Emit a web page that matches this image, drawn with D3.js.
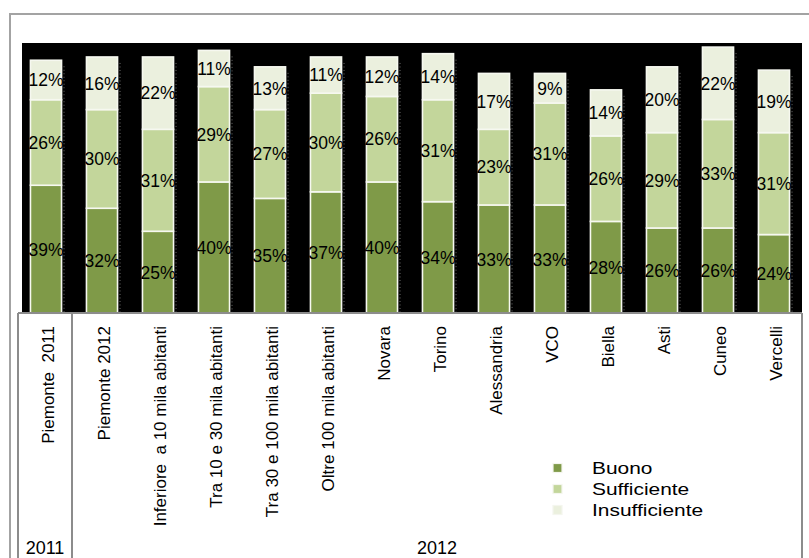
<!DOCTYPE html>
<html>
<head>
<meta charset="utf-8">
<script src="https://cdn.jsdelivr.net/npm/d3@7"></script>
<style>
  html, body { margin: 0; padding: 0; background: #ffffff; }
  svg { display: block; font-family: "Liberation Sans", Arial, sans-serif; }
  text { white-space: pre; }
</style>
</head>
<body>
<svg id="chart" width="809" height="558"></svg>
<script>
// Giudizio sui servizi: quote per territorio
const categories = [
  "Piemonte  2011", "Piemonte 2012", "Inferiore  a 10 mila abitanti",
  "Tra 10 e 30 mila abitanti", "Tra 30 e 100 mila abitanti",
  "Oltre 100 mila abitanti", "Novara", "Torino", "Alessandria",
  "VCO", "Biella", "Asti", "Cuneo", "Vercelli"
];
const buono         = [39, 32, 25, 40, 35, 37, 40, 34, 33, 33, 28, 26, 26, 24];
const sufficiente   = [26, 30, 31, 29, 27, 30, 26, 31, 23, 31, 26, 29, 33, 31];
const insufficiente = [12, 16, 22, 11, 13, 11, 12, 14, 17,  9, 14, 20, 22, 19];
const seriesNames = ["Buono", "Sufficiente", "Insufficiente"];
const years = ["2011", "2012"];
const yearOfCategory = ["2011", "2012", "2012", "2012", "2012", "2012", "2012",
                        "2012", "2012", "2012", "2012", "2012", "2012", "2012"];

const colors = { Buono: "#7f9a48", Sufficiente: "#c3d69b", Insufficiente: "#ebf0de" };

const rows = categories.map((c, i) => ({
  cat: c, Buono: buono[i], Sufficiente: sufficiente[i], Insufficiente: insufficiente[i]
}));
const stacked = d3.stack().keys(seriesNames)(rows);

const svg = d3.select("#chart");

// Layout
const plot = { left: 18, right: 802, top: 43, bottom: 313.5 };
const x = d3.scaleBand().domain(categories).range([plot.left, plot.right]).paddingInner(0.445).paddingOuter(0.2225);
const y = d3.scaleLinear().domain([0, 82.4]).range([plot.bottom, plot.top - 0.5]);

// Outer frame
svg.append("rect")
  .attr("x", 10).attr("y", 14).attr("width", 820).attr("height", 560)
  .attr("fill", "none").attr("stroke", "#a3a3a3").attr("stroke-width", 2);

// Plot background
svg.append("rect")
  .attr("x", 22).attr("y", plot.top)
  .attr("width", plot.right - 22).attr("height", plot.bottom - plot.top)
  .attr("fill", "#000000");

// Dotted guide beside each bar
svg.append("g").selectAll("line")
  .data(rows)
  .join("line")
  .attr("x1", d => x(d.cat) + x.bandwidth() + 2.5)
  .attr("x2", d => x(d.cat) + x.bandwidth() + 2.5)
  .attr("y1", d => y(d.Buono + d.Sufficiente + d.Insufficiente) + 6)
  .attr("y2", plot.bottom)
  .attr("stroke", "#6a6a6a").attr("stroke-width", 1)
  .attr("stroke-dasharray", "1,2.5");

// Stacked bars
const layers = svg.append("g").selectAll("g")
  .data(stacked)
  .join("g")
  .attr("fill", d => colors[d.key]);

layers.selectAll("rect")
  .data(d => d)
  .join("rect")
  .attr("x", d => x(d.data.cat))
  .attr("y", d => y(d[1]))
  .attr("width", x.bandwidth())
  .attr("height", d => y(d[0]) - y(d[1]))
  .attr("stroke", "#f6f8f0").attr("stroke-width", 1.6);

// Value labels
const labels = svg.append("g")
  .attr("font-size", 17.5).attr("fill", "#000").attr("text-anchor", "middle");
stacked.forEach(layer => {
  labels.selectAll(null)
    .data(layer)
    .join("text")
    .attr("x", d => x(d.data.cat) + x.bandwidth() / 2)
    .attr("y", d => (y(d[0]) + y(d[1])) / 2)
    .attr("dy", "0.36em")
    .text(d => (d[1] - d[0]) + "%");
});

// Category table
const tableTop = 313;
const grid = svg.append("g").attr("stroke", "#8c8c8c").attr("stroke-width", 2).attr("fill", "none");
grid.append("line").attr("x1", plot.left).attr("x2", plot.right).attr("y1", tableTop).attr("y2", tableTop);
grid.append("line").attr("x1", plot.left).attr("x2", plot.left).attr("y1", tableTop).attr("y2", 570);
grid.append("line").attr("x1", plot.right).attr("x2", plot.right).attr("y1", tableTop).attr("y2", 570);
const step = x.step();
const groupBounds = years.map(yr => {
  const idx = categories.map((c, i) => i).filter(i => yearOfCategory[i] === yr);
  const first = categories[idx[0]], last = categories[idx[idx.length - 1]];
  return {
    year: yr,
    x0: x(first) - x.paddingInner() * step / 2 - (idx[0] === 0 ? x.paddingOuter() * step - x.paddingInner() * step / 2 : 0),
    x1: x(last) + x.bandwidth() + x.paddingInner() * step / 2
  };
});
groupBounds.slice(1).forEach(g => {
  grid.append("line").attr("x1", g.x0 - 2).attr("x2", g.x0 - 2).attr("y1", tableTop).attr("y2", 570);
});

// Category names (vertical)
svg.append("g").selectAll("text")
  .data(categories)
  .join("text")
  .attr("transform", d => `translate(${x(d) + x.bandwidth() / 2 + 2},326) rotate(-90)`)
  .attr("text-anchor", "end")
  .attr("dy", "0.35em")
  .attr("font-size", 17)
  .attr("fill", "#000")
  .text(d => d);

// Year labels
svg.append("g").selectAll("text")
  .data(groupBounds)
  .join("text")
  .attr("x", (d, i) => i === 0 ? (plot.left + d.x1 - 2) / 2 : (d.x0 - 2 + plot.right) / 2)
  .attr("y", 554)
  .attr("text-anchor", "middle")
  .attr("font-size", 18)
  .attr("fill", "#000")
  .text(d => d.year);

// Legend
const legend = svg.append("g").attr("transform", "translate(553,468)");
const item = legend.selectAll("g")
  .data(seriesNames)
  .join("g")
  .attr("transform", (d, i) => `translate(0,${i * 21})`);
item.append("rect")
  .attr("x", 0).attr("y", -4.5).attr("width", 9).attr("height", 9)
  .attr("fill", d => colors[d])
  .attr("stroke", "#f4f6ee").attr("stroke-width", 1.2);
item.append("text")
  .attr("transform", "translate(39,0) scale(1.23,1)")
  .attr("dy", "0.36em")
  .attr("font-size", 17)
  .attr("fill", "#000")
  .text(d => d);
</script>
</body>
</html>
